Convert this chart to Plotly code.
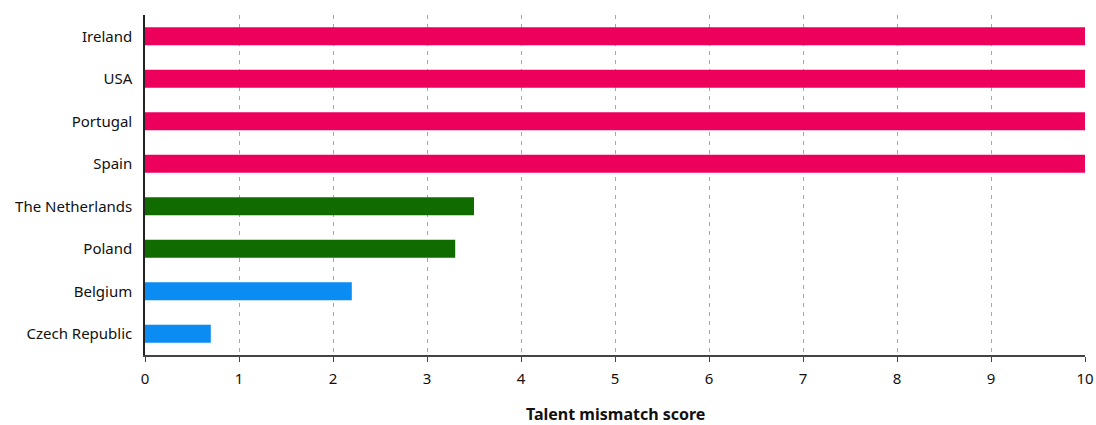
import plotly.graph_objects as go

countries = ["Ireland", "USA", "Portugal", "Spain", "The Netherlands", "Poland", "Belgium", "Czech Republic"]
scores = [10, 10, 10, 10, 3.5, 3.3, 2.2, 0.7]
bar_colors = ["#EC005C", "#EC005C", "#EC005C", "#EC005C", "#116C00", "#116C00", "#0A8CF2", "#0A8CF2"]
x_ticks = list(range(0, 11))
x_title = "Talent mismatch score"

fig = go.Figure(
    go.Bar(
        x=scores,
        y=countries,
        orientation="h",
        marker=dict(color=bar_colors, line=dict(width=0)),
        width=0.42,
        hoverinfo="x+y",
    )
)

fig.update_layout(
    width=1096,
    height=425,
    margin=dict(l=145, r=11, t=15, b=70),
    paper_bgcolor="white",
    plot_bgcolor="white",
    font=dict(family="Noto Sans, Open Sans, sans-serif", size=15, color="#111111"),
    showlegend=False,
)

fig.update_xaxes(
    range=[0, 10],
    tickvals=x_ticks,
    automargin=False,
    showgrid=True,
    gridcolor="#a8a8a8",
    griddash="4px,5px",
    gridwidth=1,
    showline=True,
    linecolor="#444444",
    linewidth=2,
    ticks="outside",
    ticklen=5,
    tickcolor="#444444",
    ticklabelstandoff=4,
    tickfont=dict(size=15),
    zeroline=False,
)

fig.update_yaxes(
    categoryorder="array",
    categoryarray=countries[::-1],
    range=[-0.5, 7.5],
    automargin=False,
    showline=True,
    linecolor="#222222",
    linewidth=1.5,
    showgrid=False,
    ticks="",
    ticklabelstandoff=8,
    tickfont=dict(size=15),
)

# axis title placed below the tick labels
fig.add_annotation(
    text=f"<b>{x_title}</b>",
    xref="paper", yref="paper",
    x=0.5, y=0,
    xanchor="center", yanchor="middle",
    yshift=-59,
    showarrow=False,
    font=dict(size=16, color="#111111"),
)

fig.write_html("out.html")
